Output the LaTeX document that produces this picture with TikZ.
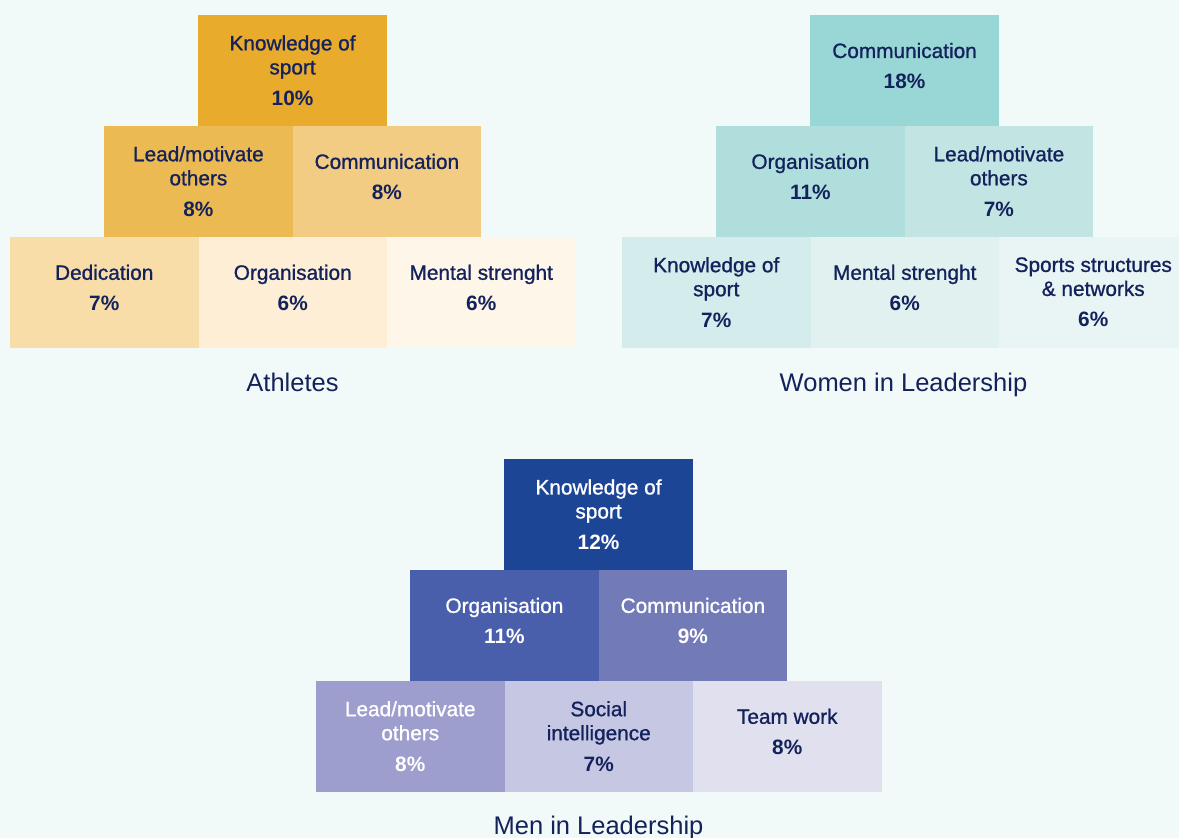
\documentclass[tikz,border=0pt]{standalone}
\usepackage{fontspec}
\setmainfont{Liberation Sans}
\newfontfamily\namefont[FakeBold=1.0]{Liberation Sans}
\newfontfamily\pctfont{Liberation Sans}

\definecolor{bg}{HTML}{F2FAF9}
\definecolor{ink}{HTML}{14225C}
% Athletes palette
\definecolor{a1}{HTML}{E9AB2C}
\definecolor{a2}{HTML}{ECBA52}
\definecolor{a3}{HTML}{F2CC82}
\definecolor{a4}{HTML}{F8DDA9}
\definecolor{a5}{HTML}{FDEED5}
\definecolor{a6}{HTML}{FEF6E9}
% Women in Leadership palette
\definecolor{w1}{HTML}{99D7D6}
\definecolor{w2}{HTML}{AFDEDD}
\definecolor{w3}{HTML}{C2E5E4}
\definecolor{w4}{HTML}{D5ECEC}
\definecolor{w5}{HTML}{E1F1F0}
\definecolor{w6}{HTML}{E9F5F4}
% Men in Leadership palette
\definecolor{m1}{HTML}{1D4596}
\definecolor{m2}{HTML}{4A5FAB}
\definecolor{m3}{HTML}{737AB8}
\definecolor{m4}{HTML}{9D9ECD}
\definecolor{m5}{HTML}{C6C7E3}
\definecolor{m6}{HTML}{E0E0EF}

\newcommand\pct[1]{\pctfont\bfseries #1\%}

\begin{document}
\begin{tikzpicture}[x=1pt,y=-1pt,
  cell/.style={rectangle, anchor=north west, inner sep=0pt, outer sep=0pt,
    minimum width=188.5pt, minimum height=110.9pt, fill=#1, text=ink,
    align=center, font=\namefont\fontsize{20.8}{24}\selectfont},
  % cells with a single name line sit a little above the middle
  short/.style={text depth=9pt},
  light/.style={text=white},
  caption/.style={anchor=base, text=ink, font=\fontsize{25.5}{30}\selectfont}]
\clip (0,0) rectangle (1179,838);
\fill[bg] (0,0) rectangle (1179,838);

% ---------- Athletes ----------
\node[cell=a1] (at)  at (198.3,15)    {Knowledge of\\sport\\[7pt]\pct{10}};
\node[cell=a2] (al2) at (104.15,125.9) {Lead/motivate\\others\\[7pt]\pct{8}};
\node[cell=a3,short] (ar2) at (292.65,125.9) {Communication\\[7pt]\pct{8}};
\node[cell=a4,short] (al3) at (10,236.8)    {Dedication\\[7pt]\pct{7}};
\node[cell=a5,short] (am3) at (198.5,236.8) {Organisation\\[7pt]\pct{6}};
\node[cell=a6,short] (ar3) at (387,236.8)   {Mental strenght\\[7pt]\pct{6}};
\node[caption] (alab) at (292.5,391) {Athletes};

% ---------- Women in Leadership ----------
\node[cell=w1,short] (wt)  at (810.3,15)    {Communication\\[7pt]\pct{18}};
\node[cell=w2,short] (wl2) at (716.15,125.9) {Organisation\\[7pt]\pct{11}};
\node[cell=w3] (wr2) at (904.65,125.9) {Lead/motivate\\others\\[7pt]\pct{7}};
\node[cell=w4] (wl3) at (622,236.8)   {Knowledge of\\sport\\[7pt]\pct{7}};
\node[cell=w5,short] (wm3) at (810.5,236.8) {Mental strenght\\[7pt]\pct{6}};
\node[cell=w6] (wr3) at (999,236.8)   {Sports structures\\\& networks\\[7pt]\pct{6}};
\node[caption] (wlab) at (903.5,391) {Women in Leadership};

% ---------- Men in Leadership ----------
\node[cell=m1,light] (mt)  at (504.3,459)    {Knowledge of\\sport\\[7pt]\pct{12}};
\node[cell=m2,light,short] (ml2) at (410.15,569.9) {Organisation\\[7pt]\pct{11}};
\node[cell=m3,light,short] (mr2) at (598.65,569.9) {Communication\\[7pt]\pct{9}};
\node[cell=m4,light] (ml3) at (316,680.8)    {Lead/motivate\\others\\[7pt]\pct{8}};
\node[cell=m5] (mm3) at (504.5,680.8)  {Social\\intelligence\\[7pt]\pct{7}};
\node[cell=m6,short] (mr3) at (693,680.8)    {Team work\\[7pt]\pct{8}};
\node[caption] (mlab) at (598.5,834) {Men in Leadership};
\end{tikzpicture}
\end{document}
